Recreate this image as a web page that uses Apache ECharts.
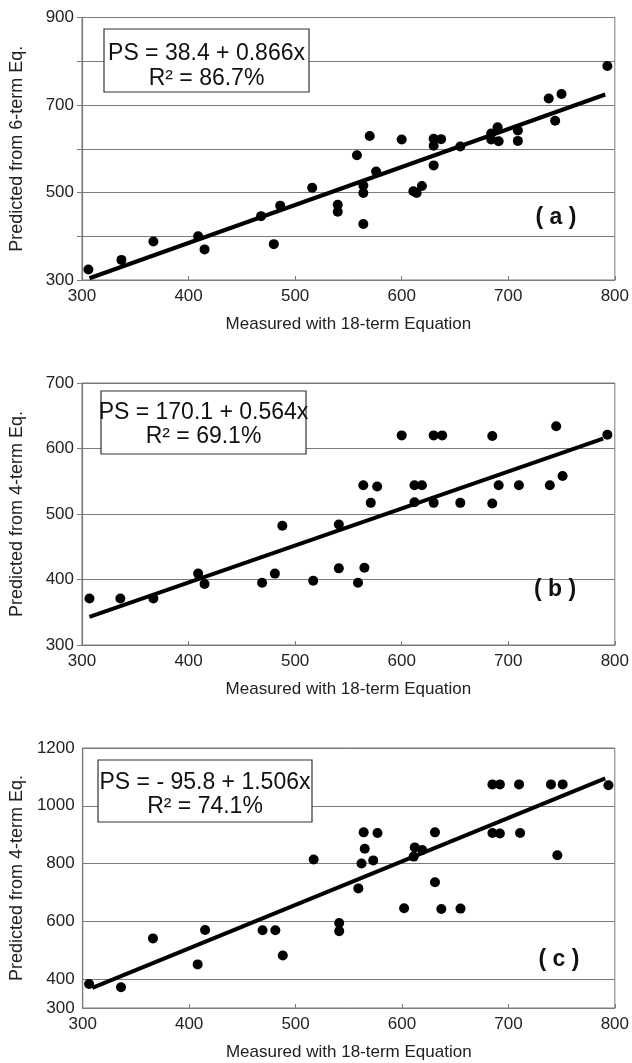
<!DOCTYPE html>
<html><head><meta charset="utf-8">
<script src="https://cdn.jsdelivr.net/npm/echarts@6/dist/echarts.min.js"></script>
<style>html,body{margin:0;padding:0;background:#fff}#c{width:632px;height:1063px}</style>
</head><body><div id="c"></div>
<script>
// Panel (a): measured (18-term) vs predicted (6-term)
const pointsA = [
  [306,324],[337,346],[367,388],[409,400],[415,370],[468,446],[480,382],[486,470],
  [516,511],[540,472],[540,456],[558,585],[564,516],[564,499],[564,428],[570,629],
  [576,548],[600,621],[611,503],[614,499],[619,515],[630,623],[630,607],[630,562],
  [637,622],[655,605],[684,635],[684,621],[690,649],[691,617],[709,642],[709,618],
  [738,715],[744,664],[750,725],[793,789]
];
// Panel (b): predicted from 4-term eq.
const pointsB = [
  [307,371],[336,371],[367,371],[409,409],[415,393],[469,395],[481,409],[488,482],
  [517,398],[541,484],[541,417],[559,395],[564,544],[565,418],[571,517],[577,542],
  [600,620],[612,544],[612,518],[619,544],[630,620],[630,517],[638,620],[655,517],
  [685,619],[685,516],[691,544],[710,544],[739,544],[745,634],[751,558],[793,621]
];
// Panel (c): predicted from 4-term eq.
const pointsC = [
  [306,383],[336,372],[366,541],[408,451],[415,570],[469,569],[481,569],[488,482],
  [517,814],[541,594],[541,566],[559,714],[562,800],[564,908],[565,851],[573,811],
  [577,906],[602,645],[611,824],[612,856],[619,847],[631,908],[631,735],[637,643],
  [655,644],[685,1074],[685,906],[692,1074],[692,904],[710,1074],[711,906],[740,1074],
  [746,829],[751,1074],[794,1071]
];
// Regression line endpoints
const fitA = [[307,304],[791,724]];
const fitB = [[307,343],[789,615]];
const fitC = [[309,370],[791,1095]];

const eqA = ['PS = 38.4 + 0.866x', 'R² = 86.7%'];
const eqB = ['PS = 170.1 + 0.564x', 'R² = 69.1%'];
const eqC = ['PS = - 95.8 + 1.506x', 'R² = 74.1%'];
const panelLabels = ['( a )', '( b )', '( c )'];
const xTitle = 'Measured with 18-term Equation';
const yTitles = ['Predicted from 6-term Eq.', 'Predicted from 4-term Eq.', 'Predicted from 4-term Eq.'];
const yRanges = [[300,900],[300,700],[300,1200]];
const cLabelTicks = [300,400,600,800,1000,1200];

const FONT = "'Liberation Sans', Arial, Helvetica, sans-serif";
const GRAY = '#7a7a7a';
const grids = [
  {left:82, right:15, top:17.5, height:262.5},
  {left:82, right:15, top:383, height:262},
  {left:82, right:15, top:748, height:260}
].map(g => Object.assign(g, {show:true, borderColor:GRAY, borderWidth:1}));

const xAxes = [0,1,2].map(i => ({
  type:'value', gridIndex:i, min:300, max:800, interval:100,
  name:xTitle, nameLocation:'middle', nameGap:36,
  nameTextStyle:{fontFamily:FONT, fontSize:17, color:'#222'},
  axisLine:{show:true, lineStyle:{color:GRAY, width:1.2}},
  axisTick:{show:true, inside:true, length:4, lineStyle:{color:GRAY}},
  axisLabel:{fontFamily:FONT, fontSize:17, color:'#222', margin:8},
  splitLine:{show:false}
}));

const yFormatters = [
  v => ((v-300)%200===0 ? String(v) : ''),
  v => String(v),
  v => (cLabelTicks.indexOf(v) >= 0 ? String(v) : '')
];
const yAxes = [0,1,2].map(i => ({
  type:'value', gridIndex:i, min:yRanges[i][0], max:yRanges[i][1], interval:100,
  name:yTitles[i], nameLocation:'middle', nameGap:56,
  nameTextStyle:{fontFamily:FONT, fontSize:18, color:'#222'},
  axisLine:{show:true, lineStyle:{color:GRAY, width:1.2}},
  axisTick:{show:i!==2, inside:false, length:5, lineStyle:{color:GRAY}},
  axisLabel:{fontFamily:FONT, fontSize:17, color:'#222', margin:8, formatter:yFormatters[i]},
  splitLine:{show:true, lineStyle:{color: i===2 ? ['rgba(0,0,0,0)', GRAY] : GRAY, width:1.2}}
}));

const pts = [pointsA, pointsB, pointsC];
const fits = [fitA, fitB, fitC];
const series = [];
for (let i=0;i<3;i++){
  series.push({type:'line', xAxisIndex:i, yAxisIndex:i, data:fits[i], symbol:'none',
    lineStyle:{color:'#000', width:4}, silent:true, z:2});
  series.push({type:'scatter', xAxisIndex:i, yAxisIndex:i, data:pts[i], symbol:'circle',
    symbolSize:10, itemStyle:{color:'#000', opacity:1}, z:3});
}

const boxes = [
  {x:104, y:29, w:205, h:63, l1:54, l2:79, eq:eqA},
  {x:101, y:391, w:205, h:63, l1:413, l2:437, eq:eqB},
  {x:98, y:760, w:214, h:62, l1:783, l2:807, eq:eqC}
];
const labelPos = [[556,218],[555,590],[559,960]];
const graphic = [];
boxes.forEach((b,i) => {
  graphic.push({type:'rect', shape:{x:b.x, y:b.y, width:b.w, height:b.h},
    style:{fill:'#fff', stroke:'#333', lineWidth:1.2}, z:10});
  const cx = b.x + b.w/2;
  graphic.push({type:'text', x:cx, y:b.l1, z:11,
    style:{text:b.eq[0], font:'23px '+FONT, fill:'#111', textAlign:'center', textVerticalAlign:'middle'}});
  graphic.push({type:'text', x:cx, y:b.l2, z:11,
    style:{text:b.eq[1], font:'23px '+FONT, fill:'#111', textAlign:'center', textVerticalAlign:'middle'}});
  graphic.push({type:'text', x:labelPos[i][0], y:labelPos[i][1], z:11,
    style:{text:panelLabels[i], font:'bold 23px '+FONT, fill:'#111', textAlign:'center', textVerticalAlign:'middle'}});
});

const chart = echarts.init(document.getElementById('c'), null, {renderer:'canvas'});
chart.setOption({
  animation:false, backgroundColor:'#fff',
  grid:grids, xAxis:xAxes, yAxis:yAxes, series:series, graphic:graphic
});
</script></body></html>
